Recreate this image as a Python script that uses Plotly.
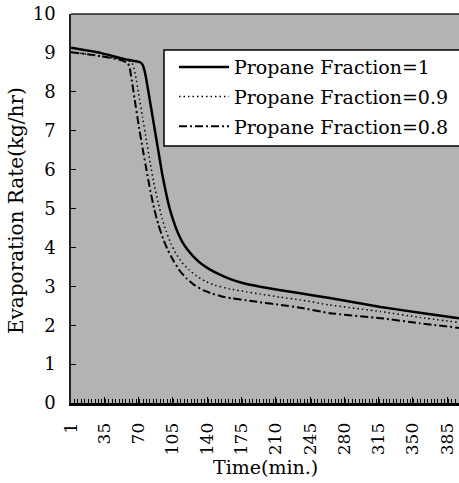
import plotly.graph_objects as go

# Evaporation rate (kg/hr) versus time (min.) for three propane fractions
time_p10 = [1, 31, 56, 66, 71.5, 74, 76, 78, 82, 86, 90, 94, 98, 102, 106, 110, 115,
            120, 127, 135, 143, 153, 163, 178, 194, 215, 235, 265, 317, 357, 397]
rate_p10 = [9.13, 9.00, 8.84, 8.79, 8.76, 8.70, 8.55, 8.30, 7.70, 7.10, 6.50, 5.90,
            5.40, 4.97, 4.65, 4.38, 4.12, 3.94, 3.74, 3.56, 3.43, 3.30, 3.19, 3.07,
            2.99, 2.90, 2.82, 2.70, 2.47, 2.32, 2.18]

time_p09 = [1, 31, 56, 63, 65, 67, 70, 74, 78, 82, 86, 90, 94, 98, 103, 108, 114,
            121, 129, 138, 148, 163, 180, 194, 215, 235, 265, 317, 357, 397]
rate_p09 = [9.02, 8.92, 8.82, 8.76, 8.62, 8.40, 7.95, 7.35, 6.75, 6.15, 5.60, 5.15,
            4.75, 4.42, 4.10, 3.85, 3.62, 3.43, 3.27, 3.13, 3.03, 2.93, 2.86, 2.80,
            2.72, 2.65, 2.52, 2.35, 2.20, 2.07]

time_p08 = [1, 31, 51, 59, 61, 63, 66, 70, 74, 78, 82, 86, 90, 95, 100, 106, 112,
            119, 127, 136, 145, 155, 165, 180, 194, 215, 235, 265, 317, 357, 397]
rate_p08 = [9.02, 8.92, 8.82, 8.74, 8.60, 8.30, 7.80, 7.15, 6.55, 6.00, 5.45, 4.98,
            4.60, 4.22, 3.92, 3.64, 3.40, 3.20, 3.03, 2.90, 2.81, 2.74, 2.69, 2.64,
            2.59, 2.52, 2.45, 2.31, 2.18, 2.05, 1.93]

series_names = ["Propane Fraction=1", "Propane Fraction=0.9", "Propane Fraction=0.8"]

x_tick_vals = [1, 35, 70, 105, 140, 175, 210, 245, 280, 315, 350, 385]
y_tick_vals = [0, 1, 2, 3, 4, 5, 6, 7, 8, 9, 10]

SERIF = "DejaVu Serif"

fig = go.Figure()
fig.add_trace(go.Scatter(
    x=time_p10, y=rate_p10, mode="lines", name=series_names[0], legendgroup="a",
    line=dict(color="black", width=2.5, shape="spline", smoothing=0.4)))
fig.add_trace(go.Scatter(
    x=time_p09, y=rate_p09, mode="lines", name=series_names[1], legendgroup="b",
    line=dict(color="black", width=1.5, dash="1.5px,3px", shape="spline", smoothing=0.4)))
fig.add_trace(go.Scatter(
    x=time_p08, y=rate_p08, mode="lines", name=series_names[2], legendgroup="c",
    line=dict(color="black", width=2, dash="8px,3px,2px,3px", shape="spline", smoothing=0.4)))

fig.update_layout(
    width=459, height=483,
    margin=dict(l=71, r=0, t=14, b=80),
    paper_bgcolor="white",
    plot_bgcolor="#b3b3b3",
    font=dict(family=SERIF, size=17, color="black"),
    showlegend=True,
    legend=dict(
        x=0.2397, y=0.9125, xanchor="left", yanchor="top",
        bgcolor="rgba(0,0,0,0)", borderwidth=0,
        font=dict(family=SERIF, size=19, color="black"),
        itemwidth=50, indentation=10, tracegroupgap=2, traceorder="grouped",
    ),
    xaxis=dict(
        range=[1, 397], tickmode="array", tickvals=x_tick_vals,
        ticktext=[str(v) for v in x_tick_vals], tickangle=-90,
        ticks="inside", ticklen=6, tickwidth=1, tickcolor="black",
        ticklabelstandoff=10,
        minor=dict(tick0=1, dtick=3.5, ticks="inside", ticklen=4, tickwidth=1,
                   tickcolor="black", showgrid=False),
        showline=True, linecolor="black", linewidth=3,
        showgrid=False, zeroline=False,
        tickfont=dict(family=SERIF, size=17, color="black"),
    ),
    yaxis=dict(
        range=[0, 10], tickmode="array", tickvals=y_tick_vals,
        ticks="inside", ticklen=5, tickwidth=1, tickcolor="black",
        ticklabelstandoff=10,
        showline=True, linecolor="#222222", linewidth=1.5,
        showgrid=False, zeroline=False,
        tickfont=dict(family=SERIF, size=18, color="black"),
    ),
    shapes=[
        # top frame line
        dict(type="line", xref="paper", yref="paper", x0=0, x1=1, y0=1, y1=1,
             line=dict(color="#222222", width=1.5)),
        # legend panel, running past the right edge of the figure
        dict(type="rect", xref="paper", yref="paper", x0=0.2397, x1=1.05,
             y0=0.6607, y1=0.9075, fillcolor="white",
             line=dict(color="black", width=1.5)),
    ],
    annotations=[
        dict(text="Time(min.)", xref="paper", yref="paper", x=0.5, y=-0.1645,
             xanchor="center", yanchor="middle", showarrow=False,
             font=dict(family=SERIF, size=19, color="black")),
        dict(text="Evaporation Rate(kg/hr)", xref="paper", yref="paper",
             x=-0.1418, y=0.496, xanchor="center", yanchor="middle",
             textangle=-90, showarrow=False,
             font=dict(family=SERIF, size=20, color="black")),
    ],
)

fig.write_html("out.html")
